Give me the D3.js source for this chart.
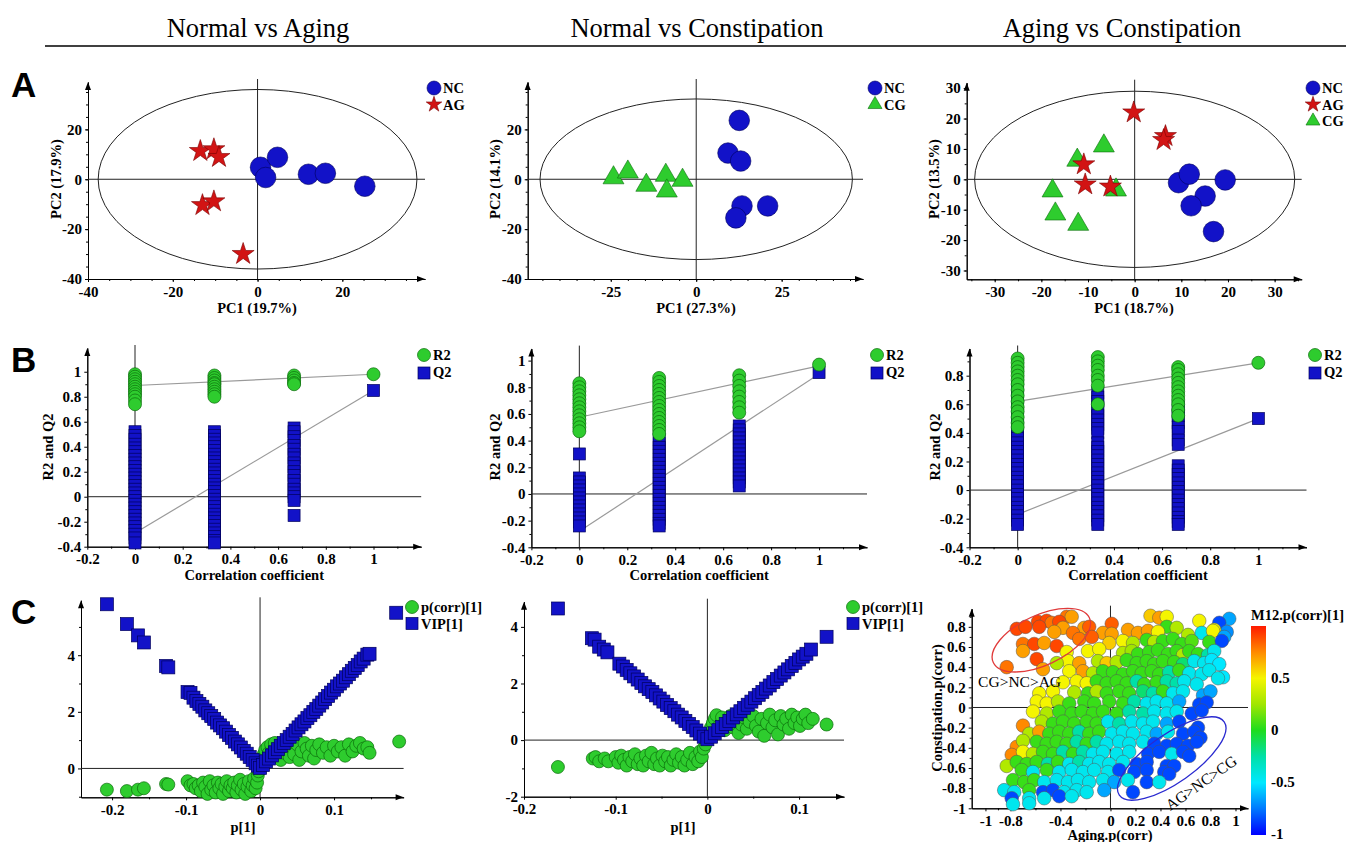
<!DOCTYPE html>
<html>
<head>
<meta charset="utf-8">
<script src="https://cdn.jsdelivr.net/npm/d3@7"></script>
<style>
  body { margin: 0; background: #fff; }
  svg text { font-family: "Liberation Serif", "Times New Roman", serif; }
</style>
</head>
<body>
<div id="chart"></div>
<script>
// ---------------- data ----------------
var headers = ["Normal vs Aging", "Normal vs Constipation", "Aging vs Constipation"];
var letters = ["A", "B", "C"];

// A: PCA score plots [PC1, PC2]
var a1NC = [[0.7,4.8],[4.7,8.8],[1.9,0.7],[12,2],[16,2.4],[25.3,-2.8]];
var a1AG = [[-13.5,11.3],[-10.3,12],[-9.1,8.9],[-13,-10.4],[-10.3,-8.9],[-3.4,-30]];
var a2NC = [[12.6,23.6],[9.3,10.5],[13,7.3],[13.4,-10.7],[11.6,-15.5],[20.9,-10.7]];
var a2CG = [[-24.2,0.6],[-20,2.9],[-14.6,-2.4],[-8.9,1.6],[-8.6,-4.7],[-4,-0.4]];
var a3NC = [[9.4,-1.1],[11.7,1.7],[19.4,-0.2],[15.1,-5.5],[12.1,-8.7],[16.9,-17.2]];
var a3AG = [[-0.2,22],[6.6,14.2],[6.2,12.9],[-10.9,4.9],[-10.6,-1.7],[-5.2,-2.4]];
var a3CG = [[-12.3,6.3],[-6.6,11],[-17.6,-3.8],[-17,-11.4],[-12.1,-14.8],[-4,-3.5]];
var aEllipse = [[37.6,36],[45.7,32.2],[34.3,29]];   // Hotelling T2 radii (PC1, PC2)
var pc1Labels = ["PC1 (19.7%)", "PC1 (27.3%)", "PC1 (18.7%)"];
var pc2Labels = ["PC2 (17.9%)", "PC2 (14.1%)", "PC2 (13.5%)"];
var aTicksX = [[-40,-20,0,20],[-25,0,25],[-30,-20,-10,0,10,20,30]];
var aTicksY = [[-40,-20,0,20],[-40,-20,0,20],[-30,-20,-10,0,10,20,30]];

// B: permutation tests, [correlation coefficient, values]
var b1R2 = [[0,[0.98,0.96,0.94,0.92,0.9,0.88,0.86,0.84,0.82,0.8,0.77,0.74]],
            [0.333,[0.97,0.95,0.93,0.91,0.9,0.88,0.86,0.84,0.82,0.8]],
            [0.667,[0.97,0.95,0.93,0.91,0.9]],
            [1,[0.98]]];
var b1Q2 = [[0,[0.52,0.49,0.46,0.42,0.39,0.36,0.33,0.3,0.27,0.24,0.21,0.18,0.15,0.12,0.09,0.06,0.03,0,-0.03,-0.06,-0.09,-0.12,-0.15,-0.18,-0.21,-0.24,-0.27,-0.3,-0.33,-0.37]],
            [0.333,[0.52,0.49,0.46,0.43,0.4,0.37,0.34,0.31,0.28,0.25,0.22,0.19,0.16,0.13,0.1,0.07,0.04,0.01,-0.02,-0.05,-0.08,-0.11,-0.14,-0.17,-0.2,-0.23,-0.26,-0.29,-0.32,-0.35,-0.37]],
            [0.667,[0.55,0.52,0.48,0.45,0.41,0.38,0.34,0.31,0.27,0.24,0.2,0.17,0.13,0.1,0.06,0.03,0,-0.03,-0.15]],
            [1,[0.85]]];
var b1Lines = [[[0,0.89],[1,0.98]], [[0,-0.29],[1,0.85]]];

var b2R2 = [[0,[0.83,0.8,0.77,0.74,0.71,0.68,0.65,0.62,0.59,0.56,0.53,0.5,0.47]],
            [0.333,[0.87,0.84,0.81,0.78,0.75,0.72,0.69,0.66,0.63,0.6,0.57,0.54,0.51,0.48,0.45]],
            [0.667,[0.89,0.85,0.81,0.77,0.73,0.69,0.65,0.61]],
            [1,[0.97]]];
var b2Q2 = [[0,[0.3,0.12,0.09,0.06,0.03,0,-0.03,-0.06,-0.09,-0.12,-0.15,-0.18,-0.21,-0.24]],
            [0.333,[0.41,0.38,0.35,0.32,0.29,0.26,0.23,0.2,0.17,0.14,0.11,0.08,0.05,0.02,-0.01,-0.04,-0.07,-0.1,-0.13,-0.16,-0.19,-0.22,-0.24]],
            [0.667,[0.51,0.48,0.45,0.42,0.39,0.36,0.33,0.3,0.27,0.24,0.21,0.18,0.15,0.12,0.09,0.06]],
            [1,[0.91]]];
var b2Lines = [[[0,0.575],[1,0.96]], [[0,-0.28],[1,0.9]]];

var b3R2 = [[0,[0.92,0.89,0.86,0.83,0.8,0.77,0.74,0.7,0.66,0.62,0.58,0.55,0.51,0.47,0.44]],
            [0.333,[0.93,0.9,0.87,0.84,0.8,0.77,0.73,0.6]],
            [0.667,[0.86,0.84,0.81,0.78,0.75,0.72,0.69,0.66,0.63,0.6,0.56,0.52]],
            [1,[0.89]]];
var b3Q2 = [[0,[0.72,0.69,0.66,0.63,0.6,0.57,0.54,0.51,0.48,0.45,0.42,0.39,0.36,0.33,0.3,0.27,0.24,0.21,0.18,0.15,0.12,0.09,0.06,0.03,0,-0.03,-0.06,-0.09,-0.12,-0.15,-0.18,-0.21,-0.24]],
            [0.333,[0.68,0.65,0.62,0.58,0.55,0.52,0.49,0.46,0.43,0.4,0.33,0.3,0.27,0.24,0.21,0.18,0.15,0.12,0.09,0.06,0.03,0,-0.03,-0.06,-0.09,-0.12,-0.15,-0.18,-0.21,-0.24]],
            [0.667,[0.58,0.55,0.52,0.47,0.44,0.41,0.35,0.32,0.17,0.14,0.11,0.08,0.05,0.02,-0.01,-0.04,-0.07,-0.1,-0.13,-0.16,-0.19,-0.22,-0.24]],
            [1,[0.5]]];
var b3Lines = [[[0,0.62],[1,0.89]], [[0,-0.17],[1,0.5]]];
var bTicksX = [-0.2,0,0.2,0.4,0.6,0.8,1];
var bTicksY = [[-0.4,-0.2,0,0.2,0.4,0.6,0.8,1],[-0.4,-0.2,0,0.2,0.4,0.6,0.8,1],[-0.4,-0.2,0,0.2,0.4,0.6,0.8]];

// C: S-plots, [p[1], VIP[1]] and [p[1], p(corr)[1]]
var c1VIP = [[-0.207,5.8],[-0.18,5.1],[-0.165,4.7],[-0.157,4.45],[-0.127,3.62],[-0.124,3.57],[-0.098,2.7],[-0.094,2.67],
  [-0.09,2.5],[-0.086,2.38],[-0.082,2.28],[-0.078,2.18],[-0.074,2.05],[-0.07,1.95],[-0.066,1.85],[-0.062,1.75],[-0.058,1.62],
  [-0.054,1.52],[-0.05,1.42],[-0.046,1.3],[-0.042,1.18],[-0.038,1.08],[-0.034,0.95],[-0.03,0.85],[-0.026,0.74],[-0.022,0.62],
  [-0.018,0.52],[-0.014,0.4],[-0.01,0.3],[-0.006,0.18],[-0.003,0.1],[0,0.02],
  [0.004,0.12],[0.008,0.25],[0.012,0.35],[0.016,0.46],[0.02,0.57],[0.024,0.68],[0.028,0.8],[0.032,0.9],[0.036,1.0],[0.04,1.12],
  [0.044,1.22],[0.048,1.34],[0.052,1.45],[0.056,1.56],[0.06,1.66],[0.064,1.78],[0.068,1.88],[0.072,2.0],[0.076,2.1],[0.08,2.22],
  [0.084,2.33],[0.088,2.45],[0.092,2.56],[0.096,2.68],[0.1,2.78],[0.104,2.9],[0.108,3.0],[0.112,3.1],[0.116,3.22],[0.12,3.33],
  [0.124,3.45],[0.128,3.55],[0.132,3.65],[0.136,3.78],[0.14,3.88],[0.145,4.02],[0.148,4.05],[0.184,5.5]];
var c1Corr = [[-0.207,-0.75],[-0.18,-0.8],[-0.165,-0.75],[-0.157,-0.7],[-0.127,-0.55],[-0.124,-0.57],[-0.098,-0.45],[-0.094,-0.6],
  [-0.09,-0.55],[-0.087,-0.7],[-0.083,-0.6],[-0.08,-0.8],[-0.077,-0.5],[-0.074,-0.65],[-0.071,-0.9],[-0.068,-0.45],[-0.066,-0.75],
  [-0.063,-0.6],[-0.06,-0.85],[-0.057,-0.5],[-0.055,-0.7],[-0.052,-0.55],[-0.05,-0.9],[-0.047,-0.65],[-0.045,-0.45],[-0.042,-0.8],
  [-0.04,-0.6],[-0.037,-0.7],[-0.035,-0.5],[-0.032,-0.85],[-0.03,-0.6],[-0.027,-0.4],[-0.025,-0.75],[-0.022,-0.55],[-0.02,-0.9],
  [-0.017,-0.65],[-0.015,-0.45],[-0.012,-0.8],[-0.01,-0.6],[-0.008,-0.35],[-0.006,-0.7],[-0.004,-0.5],[-0.003,-0.25],[-0.002,-0.1],
  [0,0.05],[0.002,0.2],[0.003,0.35],[0.005,0.5],[0.007,0.65],[0.01,0.75],[0.012,0.55],[0.015,0.85],[0.018,0.6],[0.02,0.9],
  [0.022,0.45],[0.025,0.7],[0.028,0.3],[0.03,0.8],[0.033,0.55],[0.036,0.65],[0.04,0.4],[0.043,0.75],[0.046,0.5],[0.05,0.85],
  [0.053,0.3],[0.056,0.6],[0.06,0.9],[0.063,0.7],[0.066,0.45],[0.07,0.8],[0.073,0.35],[0.076,0.65],[0.08,0.85],[0.085,0.55],
  [0.09,0.75],[0.095,0.45],[0.1,0.8],[0.105,0.6],[0.11,0.75],[0.115,0.45],[0.12,0.85],[0.125,0.6],[0.13,0.8],[0.135,0.9],
  [0.14,0.7],[0.145,0.75],[0.148,0.55],[0.188,0.95]];
var c2VIP = [[-0.163,4.65],[-0.126,3.6],[-0.123,3.55],[-0.118,3.3],[-0.113,3.2],[-0.109,3.1],[-0.096,2.7],[-0.092,2.6],
  [-0.088,2.48],[-0.084,2.36],[-0.08,2.25],[-0.076,2.14],[-0.072,2.02],[-0.068,1.9],[-0.064,1.8],[-0.06,1.7],[-0.056,1.58],
  [-0.052,1.47],[-0.048,1.36],[-0.044,1.24],[-0.04,1.13],[-0.036,1.02],[-0.032,0.9],[-0.028,0.8],[-0.024,0.68],[-0.02,0.57],
  [-0.016,0.46],[-0.012,0.34],[-0.008,0.23],[-0.004,0.12],[0,0.03],
  [0.004,0.12],[0.008,0.24],[0.012,0.35],[0.016,0.46],[0.02,0.57],[0.024,0.68],[0.028,0.8],[0.032,0.91],[0.036,1.02],[0.04,1.14],
  [0.044,1.25],[0.048,1.36],[0.052,1.48],[0.056,1.6],[0.06,1.7],[0.064,1.82],[0.068,1.93],[0.072,2.05],[0.076,2.16],[0.08,2.28],
  [0.084,2.39],[0.088,2.5],[0.092,2.62],[0.096,2.73],[0.1,2.85],[0.104,2.95],[0.108,3.05],[0.113,3.2],[0.13,3.65]];
var c2Corr = [[-0.163,-0.95],[-0.125,-0.65],[-0.122,-0.6],[-0.118,-0.75],[-0.112,-0.65],[-0.108,-0.75],
  [-0.1,-0.6],[-0.097,-0.8],[-0.094,-0.55],[-0.091,-0.7],[-0.088,-0.9],[-0.085,-0.6],[-0.082,-0.75],[-0.079,-0.5],[-0.076,-0.85],
  [-0.073,-0.65],[-0.07,-0.9],[-0.067,-0.55],[-0.064,-0.75],[-0.061,-0.45],[-0.058,-0.85],[-0.055,-0.65],[-0.052,-0.9],[-0.049,-0.55],
  [-0.046,-0.75],[-0.043,-0.6],[-0.04,-0.9],[-0.037,-0.7],[-0.034,-0.5],[-0.031,-0.8],[-0.028,-0.6],[-0.025,-0.9],[-0.022,-0.7],
  [-0.019,-0.45],[-0.016,-0.85],[-0.013,-0.6],[-0.01,-0.75],[-0.008,-0.4],[-0.006,-0.6],[-0.004,-0.3],[-0.002,-0.15],
  [0,0.05],[0.002,0.25],[0.004,0.45],[0.006,0.6],[0.008,0.75],[0.01,0.88],[0.013,0.5],[0.016,0.8],[0.019,0.35],[0.022,0.65],
  [0.025,0.85],[0.028,0.45],[0.031,0.7],[0.034,0.25],[0.037,0.55],[0.04,0.8],[0.043,0.4],[0.046,0.65],[0.05,0.85],[0.053,0.5],
  [0.056,0.3],[0.059,0.75],[0.062,0.15],[0.065,0.6],[0.068,0.9],[0.071,0.45],[0.074,0.7],[0.077,0.2],[0.08,0.85],[0.083,0.55],
  [0.086,0.75],[0.089,0.4],[0.092,0.9],[0.095,0.6],[0.098,0.8],[0.101,0.5],[0.104,0.75],[0.107,0.9],[0.11,0.6],[0.115,0.75],[0.13,0.55]];

// C3: shared-and-unique structure plot [Aging.p(corr), Constipation.p(corr), M12.p(corr)[1]]
var c3Pts = [
  [-0.35,0.9,0.8],[-0.31,0.9,0.7],[0.32,0.91,0.6],[0.39,0.89,0.7],[0.45,0.9,0.5],[0.71,0.86,0.5],[0.95,0.88,-0.65],
  [-0.58,0.85,0.9],[-0.51,0.86,0.9],[-0.47,0.84,0.8],[-0.41,0.85,0.9],[0.87,0.84,-0.85],
  [-0.75,0.78,0.9],[-0.68,0.8,0.9],[-0.57,0.8,0.9],[-0.38,0.79,0.7],[-0.21,0.79,0.7],[-0.17,0.8,0.85],[0.01,0.83,0.85],[0.45,0.8,0.05],[0.53,0.79,0.3],[0.93,0.75,-0.7],[0.83,0.77,0.5],
  [-0.45,0.75,0.7],[-0.3,0.74,0.8],[-0.06,0.74,0.7],[0.01,0.73,0.7],[0.14,0.77,0.7],[0.22,0.74,0.7],[0.3,0.76,0.7],[0.38,0.75,0.5],[0.62,0.72,0.3],[0.73,0.74,-0.45],[0.82,0.76,0.5],[0.91,0.7,-0.65],
  [-0.7,0.63,0.8],[-0.61,0.63,0.9],[-0.53,0.64,0.7],[-0.43,0.61,0.9],[-0.25,0.68,0.8],[-0.15,0.7,0.85],[-0.01,0.64,0.6],[0.1,0.66,0.5],[0.18,0.64,0.3],[0.29,0.67,0.05],[0.35,0.65,0.3],[0.42,0.66,0.05],[0.5,0.68,0.05],[0.57,0.63,0.05],[0.65,0.66,0.1],[0.79,0.65,0.05],[0.89,0.66,-0.85],
  [-0.7,0.56,0.7],[-0.35,0.55,0.5],[-0.18,0.56,0.5],[-0.09,0.58,0.5],[0.1,0.54,0.3],[0.17,0.56,0.25],[0.22,0.53,0.05],[0.31,0.55,0.05],[0.38,0.57,0.05],[0.46,0.53,0.05],[0.53,0.56,0.05],[0.58,0.52,0.3],[0.63,0.56,0.05],[0.7,0.53,0.05],[0.78,0.52,-0.25],[0.83,0.56,-0.45],
  [-0.59,0.48,0.9],[-0.34,0.46,0.5],[-0.43,0.44,0.3],[-0.25,0.44,0.7],[-0.1,0.46,0.3],[-0.03,0.44,0.6],[0.05,0.45,0.3],[0.13,0.47,0.05],[0.21,0.44,0.05],[0.29,0.46,0.05],[0.35,0.43,0.05],[0.42,0.46,0.05],[0.51,0.45,0.05],[0.58,0.43,-0.15],[0.67,0.46,-0.45],[0.75,0.44,-0.45],[0.81,0.47,-0.5],[0.87,0.43,-0.5],
  [-0.83,0.4,0.8],[-0.54,0.38,0.7],[-0.33,0.36,0.5],[-0.22,0.36,0.7],[-0.14,0.34,0.3],[-0.06,0.36,0.05],[0.02,0.35,0.05],[0.1,0.33,0.05],[0.18,0.36,0.05],[0.25,0.34,0.05],[0.33,0.36,0.05],[0.39,0.33,0.05],[0.47,0.35,-0.25],[0.55,0.37,0.05],[0.63,0.34,-0.45],[0.73,0.33,-0.45],[0.79,0.37,-0.45],[0.9,0.3,-0.5],
  [-0.38,0.25,0.5],[-0.27,0.26,0.5],[-0.19,0.24,0.5],[-0.11,0.26,0.05],[-0.03,0.24,0.05],[0.05,0.26,0.05],[0.13,0.24,0.05],[0.21,0.26,-0.25],[0.27,0.23,0.05],[0.37,0.25,0.05],[0.45,0.26,-0.25],[0.53,0.24,-0.25],[0.59,0.26,-0.45],[0.69,0.23,-0.45],[0.86,0.29,-0.45],
  [-0.57,0.14,0.5],[-0.46,0.16,0.5],[-0.29,0.15,0.3],[-0.18,0.14,0.05],[-0.11,0.16,0.3],[-0.03,0.14,0.05],[0.07,0.16,0.05],[0.15,0.14,0.05],[0.26,0.16,-0.15],[0.34,0.14,-0.25],[0.42,0.16,0.05],[0.5,0.14,-0.45],[0.58,0.16,-0.45],[0.74,0.12,-0.65],[0.8,0.16,-0.65],
  [-0.59,0.06,0.5],[-0.51,0.04,0.5],[-0.42,0.06,0.3],[-0.33,0.04,0.05],[-0.21,0.06,0.05],[-0.13,0.04,0.05],[-0.01,0.06,0.05],[0.1,0.04,0.05],[0.19,0.06,-0.25],[0.29,0.04,-0.45],[0.37,0.06,-0.45],[0.45,0.04,-0.45],[0.55,0.06,-0.65],[0.71,0.03,-0.85],[0.77,0.05,-0.85],
  [-0.62,-0.04,0.5],[-0.51,-0.06,0.3],[-0.41,-0.04,0.05],[-0.31,-0.06,0.05],[-0.23,-0.04,0.05],[-0.14,-0.06,0.05],[-0.06,-0.04,0.05],[0.05,-0.06,0.05],[0.15,-0.04,-0.25],[0.26,-0.06,-0.25],[0.35,-0.04,-0.45],[0.45,-0.06,-0.45],[0.53,-0.04,-0.45],[0.65,-0.06,-0.85],[0.73,-0.03,-0.85],
  [-0.7,-0.18,0.75],[-0.55,-0.14,0.3],[-0.46,-0.16,0.05],[-0.38,-0.14,0.05],[-0.29,-0.16,0.05],[-0.19,-0.14,0.05],[-0.11,-0.16,0.05],[-0.02,-0.14,-0.45],[0.07,-0.16,-0.25],[0.17,-0.14,-0.45],[0.26,-0.16,-0.45],[0.34,-0.14,-0.45],[0.45,-0.16,-0.65],[0.55,-0.14,-0.85],[0.7,-0.2,-0.85],
  [-0.65,-0.26,0.3],[-0.57,-0.24,0.7],[-0.49,-0.26,0.05],[-0.41,-0.24,0.05],[-0.33,-0.26,0.05],[-0.25,-0.24,-0.25],[-0.17,-0.26,0.05],[-0.09,-0.24,0.05],[0.01,-0.26,-0.45],[0.1,-0.24,-0.45],[0.18,-0.26,-0.45],[0.29,-0.24,-0.45],[0.37,-0.26,-0.65],[0.46,-0.24,-0.45],[0.58,-0.26,-0.85],[0.67,-0.24,-0.85],[0.72,-0.3,-0.85],
  [-0.75,-0.39,0.75],[-0.7,-0.33,0.3],[-0.59,-0.34,0.05],[-0.51,-0.36,0.05],[-0.43,-0.34,0.05],[-0.35,-0.36,0.05],[-0.27,-0.34,-0.25],[-0.19,-0.36,0.05],[-0.11,-0.34,-0.25],[-0.03,-0.36,-0.45],[0.07,-0.34,-0.45],[0.15,-0.36,-0.45],[0.26,-0.34,-0.45],[0.35,-0.36,-0.85],[0.45,-0.38,-0.85],[0.53,-0.36,-0.85],[0.62,-0.38,-0.85],[0.69,-0.34,-0.85],
  [-0.79,-0.47,0.75],[-0.7,-0.44,0.5],[-0.62,-0.46,0.3],[-0.54,-0.44,0.05],[-0.46,-0.46,0.05],[-0.38,-0.44,-0.25],[-0.3,-0.46,0.05],[-0.22,-0.44,-0.25],[-0.14,-0.46,-0.45],[-0.06,-0.44,-0.45],[0.05,-0.46,-0.45],[0.15,-0.44,-0.45],[0.3,-0.46,-0.85],[0.39,-0.44,-0.85],[0.49,-0.46,-0.45],[0.58,-0.44,-0.85],[0.63,-0.48,-0.85],
  [-0.83,-0.58,0.3],[-0.75,-0.54,0.05],[-0.67,-0.56,0.05],[-0.59,-0.54,0.05],[-0.5,-0.56,-0.25],[-0.42,-0.54,0.05],[-0.33,-0.56,-0.45],[-0.25,-0.54,-0.25],[-0.17,-0.56,-0.45],[-0.09,-0.54,-0.45],[-0.01,-0.56,-0.45],[0.1,-0.54,-0.45],[0.21,-0.56,-0.85],[0.29,-0.54,-0.85],[0.45,-0.58,-0.85],[0.51,-0.58,-0.85],
  [-0.71,-0.62,0.05],[-0.62,-0.64,-0.45],[-0.51,-0.62,0.05],[-0.41,-0.64,-0.45],[-0.31,-0.62,-0.45],[-0.22,-0.64,-0.45],[-0.13,-0.62,-0.45],[-0.02,-0.64,-0.45],[0.07,-0.62,-0.85],[0.19,-0.64,-0.85],[0.29,-0.62,-0.85],[0.43,-0.64,-0.85],[0.47,-0.66,-0.85],
  [-0.78,-0.72,0.05],[-0.69,-0.74,0.05],[-0.61,-0.72,0.05],[-0.53,-0.74,-0.45],[-0.43,-0.72,-0.45],[-0.34,-0.74,-0.45],[-0.26,-0.72,-0.45],[-0.17,-0.74,-0.45],[-0.06,-0.72,-0.45],[0.03,-0.74,-0.65],[0.14,-0.72,-0.45],[0.29,-0.74,-0.85],[0.39,-0.74,-0.45],
  [-0.85,-0.82,-0.45],[-0.77,-0.84,-0.45],[-0.65,-0.82,0.05],[-0.54,-0.84,-0.85],[-0.46,-0.82,-0.85],[-0.37,-0.84,-0.45],[-0.27,-0.82,-0.45],[-0.19,-0.84,-0.45],[-0.05,-0.82,-0.65],[0.18,-0.84,-0.85],
  [-0.79,-0.9,-0.85],[-0.65,-0.9,-0.45],[-0.53,-0.9,-0.45],[-0.41,-0.88,-0.85],[-0.31,-0.88,-0.45],
  [-0.78,-0.96,-0.45],[-0.65,-0.95,-0.45]];
var cTicksX = [[-0.2,-0.1,0,0.1],[-0.2,-0.1,0,0.1],[-1,-0.8,-0.4,0,0.2,0.4,0.6,0.8,1]];
var cTicksY = [[0,2,4],[-2,0,2,4],[-1,-0.8,-0.6,-0.4,-0.2,0,0.2,0.4,0.6,0.8]];
var cbTicks = [0.5,0,-0.5,-1];

// ---------------- styles ----------------
var SERIF = "'Liberation Serif', 'Times New Roman', serif";
var BLUE = "#1212c8", BLUE_S = "#00005c";
var RED = "#d21414", RED_S = "#7a0000";
var GREEN = "#2ecc2e", GREEN_S = "#0b6b0b";

var svg = d3.select("#chart").append("svg")
  .attr("width", 1346)
  .attr("height", 842);

// header row
var headerX = [258, 697, 1122];
headers.forEach(function(h, i) {
  svg.append("text").attr("x", headerX[i]).attr("y", 37)
    .attr("text-anchor", "middle").style("font-size", "26.5px").text(h);
});
svg.append("line").attr("x1", 45).attr("x2", 1346).attr("y1", 46).attr("y2", 46)
  .attr("stroke", "#000").attr("stroke-width", 1.5);

var letterY = [97, 372, 624];
letters.forEach(function(l, i) {
  svg.append("text").attr("x", 11).attr("y", letterY[i])
    .style("font-family", "'Liberation Sans', Arial, sans-serif")
    .style("font-weight", "bold").style("font-size", "35px").text(l);
});

var fmt = function(d) { return String(d); };

function styleTicks(sel) {
  sel.selectAll("text")
    .attr("font-family", null).attr("font-size", null)
    .style("font-family", SERIF).style("font-weight", "bold").style("font-size", "15px");
}

// axes with arrow heads, minor ticks and zero lines
function frame(s) {
  var x = d3.scaleLinear().domain(s.xd).range(s.xr);
  var y = d3.scaleLinear().domain(s.yd).range(s.yr);
  var g = svg.append("g");
  var x0 = s.xr[0], x1 = s.xr[1], y0 = s.yr[0], y1 = s.yr[1];

  g.append("g").attr("transform", `translate(0,${y0})`)
    .call(d3.axisBottom(x).tickValues(s.xm).tickSize(2).tickSizeOuter(0).tickFormat(""));
  g.append("g").attr("transform", `translate(${x0},0)`)
    .call(d3.axisLeft(y).tickValues(s.ym).tickSize(2).tickSizeOuter(0).tickFormat(""));
  g.append("g").attr("transform", `translate(0,${y0})`)
    .call(d3.axisBottom(x).tickValues(s.xt).tickSize(3).tickPadding(4).tickSizeOuter(0).tickFormat(fmt))
    .call(styleTicks);
  g.append("g").attr("transform", `translate(${x0},0)`)
    .call(d3.axisLeft(y).tickValues(s.yt).tickSize(3).tickPadding(3).tickSizeOuter(0).tickFormat(fmt))
    .call(styleTicks);

  g.append("path").attr("d", `M${x1},${y0}L${x1 - 8},${y0 - 3}L${x1 - 8},${y0 + 3}Z`).attr("fill", "#000");
  g.append("path").attr("d", `M${x0},${y1}L${x0 - 3},${y1 + 8}L${x0 + 3},${y1 + 8}Z`).attr("fill", "#000");

  // zero lines
  g.append("line").attr("x1", x0).attr("x2", x1).attr("y1", y(0)).attr("y2", y(0))
    .attr("stroke", "#222").attr("stroke-width", 1);
  g.append("line").attr("x1", x(0)).attr("x2", x(0)).attr("y1", y1 - 3).attr("y2", y0)
    .attr("stroke", "#222").attr("stroke-width", 1);
  return {x: x, y: y, g: g};
}

function lab(sel) {
  return sel.style("font-family", SERIF).style("font-weight", "bold").style("font-size", "14.5px");
}

function axisTitles(s, xt, yt) {
  svg.append("text").attr("x", s.xlx).attr("y", s.xly)
    .attr("text-anchor", "middle").call(lab).text(xt);
  svg.append("text").attr("text-anchor", "middle")
    .attr("transform", `translate(${s.ylx},${s.yly}) rotate(-90)`).call(lab).text(yt);
}

function legend(x0, y0, items) {
  items.forEach(function(it, i) {
    var cy = y0 + i * 16.5;
    it.draw(svg, x0, cy);
    svg.append("text").attr("x", x0 + 9).attr("y", cy + 5).call(lab).text(it.name);
  });
}

function sym(type, size) { return d3.symbol().type(type).size(size); }

var drawNC = function(p, x, y, r) { p.append("circle").attr("cx", x).attr("cy", y).attr("r", r).attr("fill", BLUE).attr("stroke", BLUE_S).attr("stroke-width", 0.6); };
var drawAG = function(p, x, y, sz) { p.append("path").attr("d", sym(d3.symbolStar, sz)()).attr("transform", `translate(${x},${y})`).attr("fill", RED).attr("stroke", RED_S).attr("stroke-width", 0.6); };
var drawCG = function(p, x, y, sz) { p.append("path").attr("d", sym(d3.symbolTriangle, sz)()).attr("transform", `translate(${x},${y})`).attr("fill", GREEN).attr("stroke", GREEN_S).attr("stroke-width", 0.6); };

// ---------------- row A ----------------
var aSpecs = [
  {xd: [-40, 39.5], xr: [88, 425], yd: [-40, 39], yr: [279, 82], xm: d3.range(-40, 40, 5), ym: d3.range(-40, 40, 5),
   xlx: 257, xly: 313, ylx: 61, yly: 179, leg: [434, 88]},
  {xd: [-49.3, 48.8], xr: [527.7, 863], yd: [-40, 39], yr: [279, 82], xm: d3.range(-45, 50, 5), ym: d3.range(-40, 40, 5),
   xlx: 696, xly: 313, ylx: 500, yly: 179, leg: [875, 88]},
  {xd: [-36, 35.8], xr: [966.7, 1301.7], yd: [-32.9, 31.8], yr: [279.3, 82.7], xm: d3.range(-35, 36, 5), ym: d3.range(-30, 31, 5),
   xlx: 1134, xly: 313, ylx: 939, yly: 179, leg: [1313, 88]}
];
var aGroups = [
  [[a1AG, "AG"], [a1NC, "NC"]],
  [[a2CG, "CG"], [a2NC, "NC"]],
  [[a3CG, "CG"], [a3NC, "NC"], [a3AG, "AG"]]
];
var legA = [["NC", "AG"], ["NC", "CG"], ["NC", "AG", "CG"]];

aSpecs.forEach(function(s, i) {
  s.xt = aTicksX[i]; s.yt = aTicksY[i];
  var f = frame(s);
  f.g.append("ellipse")
    .attr("cx", f.x(0)).attr("cy", f.y(0))
    .attr("rx", f.x(aEllipse[i][0]) - f.x(0))
    .attr("ry", f.y(0) - f.y(aEllipse[i][1]))
    .attr("fill", "none").attr("stroke", "#222").attr("stroke-width", 1);
  aGroups[i].forEach(function(grp) {
    grp[0].forEach(function(d) {
      var px = f.x(d[0]), py = f.y(d[1]);
      if (grp[1] === "NC") drawNC(f.g, px, py, 10.3);
      else if (grp[1] === "AG") drawAG(f.g, px, py, 150);
      else drawCG(f.g, px, py, 190);
    });
  });
  axisTitles(s, pc1Labels[i], pc2Labels[i]);
  legend(s.leg[0], s.leg[1], legA[i].map(function(n) {
    return {name: n, draw: function(p, x, y) {
      if (n === "NC") drawNC(p, x, y, 7);
      else if (n === "AG") drawAG(p, x, y, 75);
      else drawCG(p, x, y, 85);
    }};
  }));
});

// ---------------- row B ----------------
var bSpecs = [
  {xd: [-0.2, 1.2], xr: [87.3, 421.2], yd: [-0.4, 1.19], yr: [546.7, 348], leg: [424, 355], ylx: 53},
  {xd: [-0.2, 1.2], xr: [531.4, 867], yd: [-0.4, 1.09], yr: [547.3, 348.6], leg: [877, 355], ylx: 500},
  {xd: [-0.2, 1.2], xr: [969.5, 1306.5], yd: [-0.4, 0.99], yr: [547.3, 348.5], leg: [1315, 355], ylx: 940}
];
var bR2 = [b1R2, b2R2, b3R2], bQ2 = [b1Q2, b2Q2, b3Q2], bLines = [b1Lines, b2Lines, b3Lines];
var flat = function(arr) { return arr.flatMap(function(c) { return c[1].map(function(v) { return [c[0], v]; }); }); };

var drawR2 = function(p, x, y, r) { p.append("circle").attr("cx", x).attr("cy", y).attr("r", r).attr("fill", GREEN).attr("stroke", GREEN_S).attr("stroke-width", 0.7); };
var drawQ2 = function(p, x, y, w) { p.append("rect").attr("x", x - w / 2).attr("y", y - w / 2).attr("width", w).attr("height", w).attr("fill", BLUE).attr("stroke", BLUE_S).attr("stroke-width", 0.7); };

bSpecs.forEach(function(s, i) {
  s.xt = bTicksX; s.yt = bTicksY[i];
  s.xm = [-0.1, 0.1, 0.3, 0.5, 0.7, 0.9, 1.1];
  s.ym = [-0.3, -0.1, 0.1, 0.3, 0.5, 0.7, 0.9].filter(function(v) { return v < s.yd[1]; });
  var f = frame(s);
  var line = d3.line().x(function(d) { return f.x(d[0]); }).y(function(d) { return f.y(d[1]); });
  bLines[i].forEach(function(l) {
    f.g.append("path").attr("d", line(l)).attr("fill", "none").attr("stroke", "#9a9a9a").attr("stroke-width", 1.2);
  });
  flat(bQ2[i]).forEach(function(d) { drawQ2(f.g, f.x(d[0]), f.y(d[1]), 12); });
  flat(bR2[i]).forEach(function(d) { drawR2(f.g, f.x(d[0]), f.y(d[1]), 6.5); });
  s.xlx = f.x(0.5); s.xly = 580; s.yly = 447;
  axisTitles(s, "Correlation coefficient", "R2 and Q2");
  legend(s.leg[0], s.leg[1], [
    {name: "R2", draw: function(p, x, y) { drawR2(p, x, y, 6.5); }},
    {name: "Q2", draw: function(p, x, y) { drawQ2(p, x, y + 1.5, 12); }}
  ]);
});

// ---------------- row C (S-plots) ----------------
var cSpecs = [
  {xd: [-0.242, 0.194], xr: [81, 403.6], yd: [-1.02, 5.94], yr: [797.3, 600.3], xm: [-0.15, -0.05, 0.05, 0.15], ym: [-1, 1, 3, 5],
   xlx: 243, xly: 832, leg: [412, 607]},
  {xd: [-0.2, 0.149], xr: [524, 844], yd: [-2, 4.89], yr: [796.7, 601.7], xm: [-0.15, -0.05, 0.05], ym: [-1, 1, 3],
   xlx: 683, xly: 832, leg: [853, 607]}
];
var cVIP = [c1VIP, c2VIP], cCorr = [c1Corr, c2Corr];
cSpecs.forEach(function(s, i) {
  s.xt = cTicksX[i]; s.yt = cTicksY[i];
  var f = frame(s);
  cCorr[i].forEach(function(d) { drawR2(f.g, f.x(d[0]), f.y(d[1]), 6.5); });
  cVIP[i].forEach(function(d) { drawQ2(f.g, f.x(d[0]), f.y(d[1]), 13); });
  svg.append("text").attr("x", s.xlx).attr("y", s.xly)
    .attr("text-anchor", "middle").call(lab).text("p[1]");
  legend(s.leg[0], s.leg[1], [
    {name: "p(corr)[1]", draw: function(p, x, y) { drawR2(p, x, y, 6.5); }},
    {name: "VIP[1]", draw: function(p, x, y) { drawQ2(p, x, y, 12); }}
  ]);
});

// ---------------- C3 shared-and-unique structure ----------------
var jet = d3.scaleLinear()
  .domain([-1, -0.75, -0.5, -0.25, 0, 0.25, 0.5, 0.75, 1])
  .range(["#0000ff", "#0078ff", "#00e8ff", "#00e0a8", "#1edc1e", "#a0e600", "#f5f500", "#ff8a00", "#ff1a00"])
  .clamp(true);

var c3 = {xd: [-1.11, 1.1], xr: [971.7, 1248], yd: [-1, 0.98], yr: [808.3, 608.7],
          xm: [-0.9, -0.6, -0.2], ym: [-0.9, -0.7, -0.5, -0.3, -0.1, 0.1, 0.3, 0.5, 0.7, 0.9],
          xt: cTicksX[2], yt: cTicksY[2], xlx: 1110, xly: 840, ylx: 942, yly: 708};
var f3 = frame(c3);
f3.g.selectAll("circle.sus").data(c3Pts).enter().append("circle")
  .attr("class", "sus")
  .attr("cx", function(d) { return f3.x(d[0]); })
  .attr("cy", function(d) { return f3.y(d[1]); })
  .attr("r", 6.8)
  .attr("fill", function(d) { return jet(d[2]); })
  .attr("stroke", "#555").attr("stroke-width", 0.5);

// group ellipses and labels
f3.g.append("ellipse")
  .attr("transform", `translate(${f3.x(-0.553)},${f3.y(0.668)}) rotate(-25)`)
  .attr("rx", 53).attr("ry", 25)
  .attr("fill", "none").attr("stroke", "#e03a3a").attr("stroke-width", 1.3);
f3.g.append("ellipse")
  .attr("transform", `translate(${f3.x(0.49)},${f3.y(-0.506)}) rotate(-35)`)
  .attr("rx", 64).attr("ry", 24)
  .attr("fill", "none").attr("stroke", "#2a2ad0").attr("stroke-width", 1.3);
svg.append("text").attr("x", f3.x(-0.727)).attr("y", f3.y(0.204))
  .attr("text-anchor", "middle").style("font-size", "15.5px").text("CG>NC>AG");
svg.append("text").attr("text-anchor", "middle").style("font-size", "15.5px")
  .attr("transform", `translate(${f3.x(0.75)},${f3.y(-0.74) + 5}) rotate(-35)`).text("AG>NC>CG");
axisTitles(c3, "Aging.p(corr)", "Constipation.p(corr)");

// colour bar
var cb = d3.scaleLinear().domain([-1, 1]).range([835, 626]);
var defs = svg.append("defs");
var grad = defs.append("linearGradient").attr("id", "jetGrad")
  .attr("x1", "0").attr("y1", "1").attr("x2", "0").attr("y2", "0");
jet.domain().forEach(function(v) {
  grad.append("stop").attr("offset", (v + 1) / 2).attr("stop-color", jet(v));
});
svg.append("rect").attr("x", 1251).attr("y", cb(1)).attr("width", 15)
  .attr("height", cb(-1) - cb(1)).attr("fill", "url(#jetGrad)");
svg.append("g").attr("transform", "translate(1266,0)")
  .call(d3.axisRight(cb).tickValues(cbTicks).tickSize(0).tickPadding(5).tickFormat(fmt))
  .call(styleTicks)
  .call(function(g) {
    g.select(".domain").remove();
    g.selectAll("text").attr("dy", "0.25em");
  });
svg.append("text").attr("x", 1251).attr("y", 620).call(lab).text("M12.p(corr)[1]");
</script>
</body>
</html>
